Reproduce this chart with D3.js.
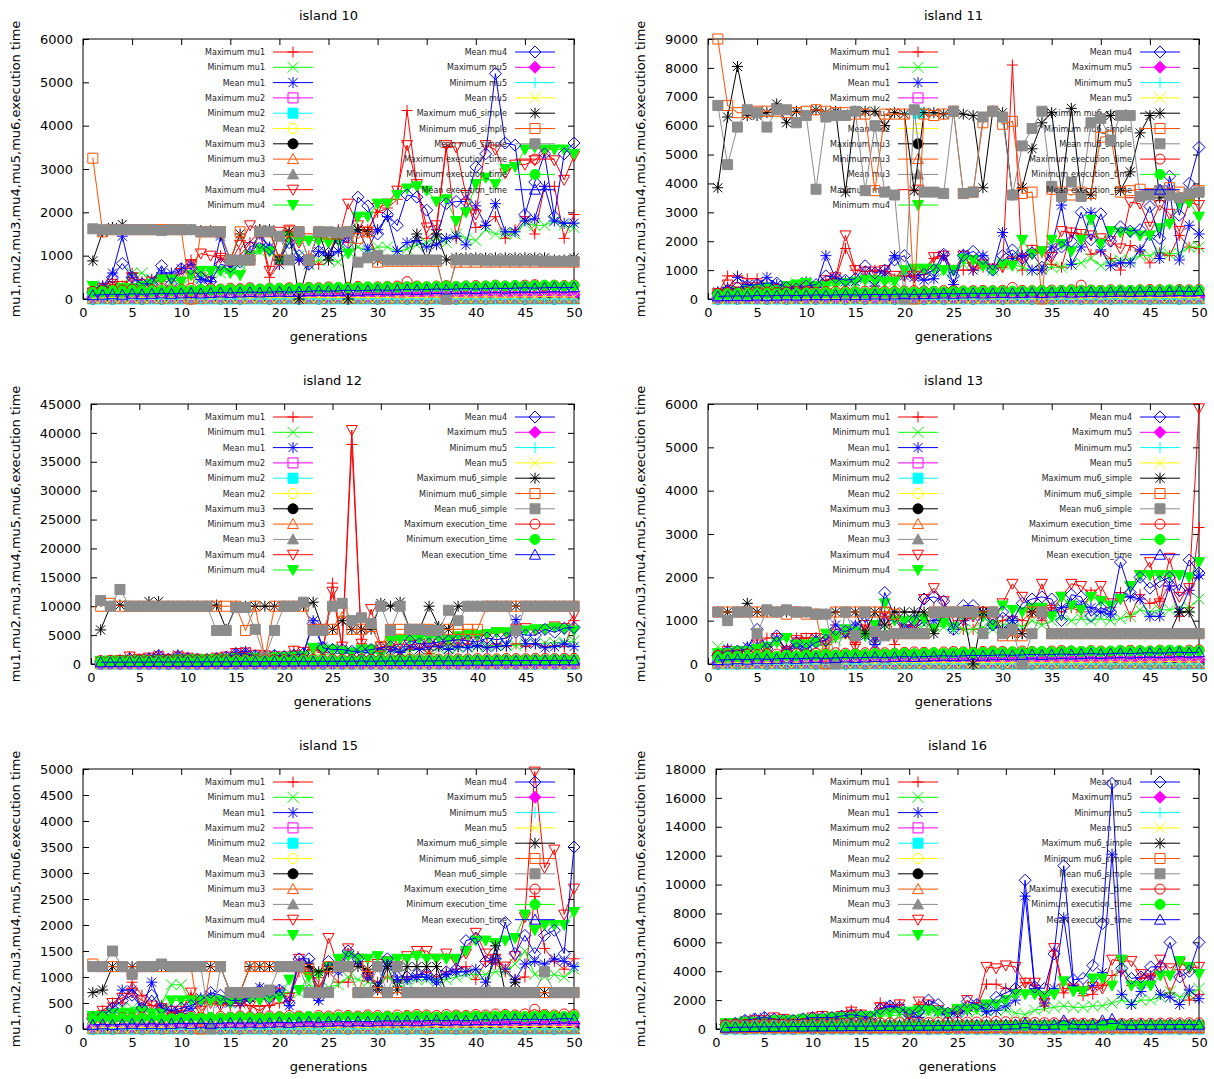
<!DOCTYPE html>
<html>
<head>
<meta charset="utf-8">
<script src="https://cdn.jsdelivr.net/npm/d3@7"></script>
<style>
  body { margin: 0; background: #fff; }
  text { font-family: "DejaVu Sans", sans-serif; }
</style>
</head>
<body>
<svg id="chart" width="1214" height="1079"></svg>
<script>
// x values: generation number
const generations = [1,2,3,4,5,6,7,8,9,10,11,12,13,14,15,16,17,18,19,20,21,22,23,24,25,
  26,27,28,29,30,31,32,33,34,35,36,37,38,39,40,41,42,43,44,45,46,47,48,49,50];
const xTicks = [0,5,10,15,20,25,30,35,40,45,50];

const seriesNames = ['Maximum mu1','Minimum mu1','Mean mu1','Maximum mu2','Minimum mu2','Mean mu2',
  'Maximum mu3','Minimum mu3','Mean mu3','Maximum mu4','Minimum mu4','Mean mu4',
  'Maximum mu5','Minimum mu5','Mean mu5','Maximum mu6_simple','Minimum mu6_simple','Mean mu6_simple',
  'Maximum execution_time','Minimum execution_time','Mean execution_time'];

// near-zero series (mu2, mu3, mu5) look the same on every island
const zeros50 = [0,0,0,0,0,0,0,0,0,0, 0,0,0,0,0,0,0,0,0,0, 0,0,0,0,0,0,0,0,0,0, 0,0,0,0,0,0,0,0,0,0, 0,0,0,0,0,0,0,0,0,0];
const lowMax2 = [30,40,20,50,30,40,30,20,40,30, 20,30,40,30,20,40,30,50,30,40, 30,20,40,30,50,40,30,20,40,30, 50,40,30,40,50,30,40,50,40,30, 50,40,60,40,50,40,60,50,40,50];
const lowMean2 = [10,15,10,20,15,10,15,20,10,15, 10,20,15,10,15,20,15,10,20,15, 10,15,20,15,10,20,15,20,10,15, 20,15,10,20,15,20,25,15,20,25, 20,15,25,20,25,20,30,25,20,25];
const lowMax3 = [0,10,0,20,10,0,10,0,20,10, 0,10,20,0,10,0,10,20,0,10, 20,0,10,0,20,10,0,10,20,0, 10,20,0,10,0,20,10,0,10,20, 0,10,20,10,0,10,20,0,10,20];
const lowMean3 = [5,0,5,10,0,5,0,10,5,0, 5,10,0,5,0,10,5,0,5,10, 0,5,10,0,5,0,10,5,0,5, 10,0,5,0,10,5,0,5,10,0, 5,0,10,5,0,5,10,0,5,10];
const lowMax5 = [40,50,60,50,40,60,50,70,60,50, 60,70,50,60,70,60,50,70,60,80, 70,60,70,80,60,70,80,70,60,80, 70,90,80,70,80,90,80,70,90,80, 100,90,80,90,100,90,110,100,90,100];
const lowMean5 = [20,25,30,25,20,30,25,35,30,25, 30,35,25,30,35,30,25,35,30,40, 35,30,35,40,30,35,40,35,30,40, 35,45,40,35,40,45,40,35,45,40, 50,45,40,45,50,45,55,50,45,50];
const execMin = [150,160,170,160,180,190,180,200,190,210, 200,220,210,220,230,220,240,230,240,250, 240,250,260,250,260,270,260,270,280,270, 280,270,280,290,280,290,300,290,300,290, 300,310,300,310,300,310,320,310,300,310];
const execMean = [90,100,110,100,120,110,120,130,120,130, 140,130,140,150,140,150,160,150,160,170, 160,170,180,190,180,190,200,190,200,210, 200,210,220,210,220,230,220,230,240,230, 240,250,240,250,260,250,260,270,260,270];

// island 10
const i10MaxMu1 = [200,300,400,300,600,400,400,400,500,700, 900,600,500,1000,700,1000,1300,1600,500,800, 1550,900,1000,800,1000,1600,1300,1600,1600,2000, 2100,2300,4350,2600,1400,1600,3500,1400,2300,1650, 1700,1900,1400,1600,1900,1500,2600,2600,1400,1950];
const i10MinMu1 = [300,250,300,300,600,600,450,500,400,450, 500,500,600,600,700,800,1000,1100,1100,900, 1300,1000,800,900,900,850,1100,1200,1100,1200, 1200,1100,1150,1250,1300,1400,1300,1500,1400,1350, 1600,1500,1500,1500,1750,1700,1700,1800,1700,1650];
const i10MeanMu1 = [100,300,600,1450,500,350,450,600,600,700, 800,450,400,1450,700,900,1050,1500,1200,800, 1450,900,800,1100,1000,1100,1500,1600,1150,1600, 1900,1100,1300,1350,1200,1250,1400,1450,1250,2150, 1700,2200,1550,1550,1800,1850,2600,1800,1750,1750];
const i10MaxMu4 = [150,250,350,300,500,350,400,450,450,600, 800,1050,1000,950,850,1250,1700,1550,650,1550, 1600,1300,1400,1500,1400,1350,2200,1700,1550,2100, 2200,2500,3550,2650,1650,1700,3550,3500,2400,1950, 3550,3450,2900,3100,3100,3200,3400,3200,2750,3300];
const i10MinMu4 = [300,200,200,250,250,300,350,450,450,400, 550,650,650,650,600,550,1000,1150,1100,900, 1450,1350,1350,1350,1300,1350,1050,1900,1900,2200, 2200,2400,2550,2600,2500,2250,2300,1800,2000,2650, 2800,2650,3000,3050,3450,3500,3450,3450,3450,3350];
const i10MeanMu4 = [150,250,500,820,500,350,350,770,350,700, 700,500,400,800,750,850,1200,1300,1150,900, 1300,1000,800,1100,1050,1400,1300,2350,2150,1500, 1950,1700,2400,2350,2050,1400,2200,2250,2250,3050, 3350,5200,3600,3550,1950,2700,3350,1900,3350,3600];
const i10MaxMu6 = [880,1550,1650,1720,1600,1600,1600,1600,1600,1600, 1600,1580,1580,1500,900,1500,900,1600,1600,900, 1550,0,900,1550,900,1550,0,1600,1550,900, 900,900,900,1500,900,1500,900,950,950,950, 950,950,950,950,950,950,950,900,900,950];
const i10MinMu6 = [3250,1550,1600,1600,1600,1600,1600,1600,1600,1600, 0,1550,1550,1550,900,1550,900,1550,1550,900, 1550,1550,900,1550,1500,1500,1550,1400,1550,850, 870,870,870,870,870,870,0,850,850,850, 850,850,850,850,850,850,850,850,850,850];
const i10MeanMu6 = [1620,1600,1600,1600,1600,1600,1600,1580,1600,1600, 1600,1550,1550,1550,900,900,900,1560,1560,1450, 900,1550,900,1550,1550,1530,1550,850,950,1000, 900,900,900,900,900,900,0,900,900,900, 880,880,880,880,880,880,870,870,870,870];
const i10MaxExec = [180,200,220,210,230,200,220,240,210,230, 250,220,240,230,250,240,260,230,250,240, 260,250,270,260,280,250,270,290,270,280, 290,300,400,300,280,300,310,290,300,310, 300,320,300,310,320,330,300,320,310,320];

// island 11
const i11MaxMu1 = [200,800,800,700,700,500,350,300,300,400, 400,650,700,1750,1000,950,1000,950,700,800, 800,850,1400,1500,1000,1000,1000,1100,1050,1100, 8100,1000,1700,1600,1200,1100,2300,2200,1550,1650, 1400,1000,1850,1650,1250,1600,1500,2200,1800,1750];
const i11MinMu1 = [150,300,200,300,350,250,300,350,550,400, 350,500,600,500,550,700,600,700,600,1000, 1000,1000,1050,950,900,1200,1300,1100,1000,1250, 1200,1100,1000,1050,1100,1100,1200,1250,1400,1150, 1300,1350,1350,1500,1500,1650,1550,1600,1800,1800];
const i11MeanMu1 = [250,400,750,500,500,750,500,350,450,600, 400,1500,700,600,600,750,450,900,1500,800, 750,650,700,1500,500,1550,1000,1500,1050,2300, 1400,1500,1000,1000,1800,3250,1200,1800,3000,1700, 1150,1250,1250,1700,2200,1400,3800,1350,2550,2250];
const i11MaxMu4 = [200,500,400,400,400,300,350,400,400,400, 450,650,750,2200,1000,950,950,1000,800,800, 800,1000,1450,1500,1000,1500,1100,1200,1050,1100, 1300,1400,1700,1650,1450,2350,2300,2250,2200,2100, 2000,1750,3350,3300,2500,3250,2950,2350,3350,3250];
const i11MinMu4 = [100,200,250,300,350,400,300,450,500,550, 450,450,500,550,600,650,650,600,600,1000, 1050,1050,1050,1000,1000,1400,1350,1150,1000,1200, 1150,2050,1550,1650,2050,1900,1650,2050,2750,1900, 2350,2300,2300,2200,2200,2450,2600,3300,3350,2850];
const i11MeanMu4 = [200,300,400,450,500,550,550,400,350,450, 500,800,750,650,700,1150,900,1000,1350,1500, 800,850,1000,1550,800,1500,1650,1400,1000,1500, 1700,1400,1600,1100,1600,1800,2000,3000,2050,2950, 2000,2500,2350,2400,3200,2100,4250,2900,4000,5250];
const i11MaxMu6 = [3850,6300,8050,6350,6350,6450,6750,6100,6500,6350, 6550,6450,6500,3700,6500,6500,6500,6000,6450,6400, 3750,6450,6450,6400,6500,6400,6350,3850,6500,6450, 3600,3850,5200,6100,6450,3700,6600,3650,3600,6300, 6350,3750,4400,5750,6350,3500,3600,3500,3650,3650];
const i11MinMu6 = [9000,6700,6450,6450,6500,6500,6500,6450,6450,6500, 6550,6500,6450,6450,6400,6400,3750,6400,6400,6400, 0,6400,6350,6400,6500,3650,3700,6100,6500,6050, 6150,3650,3700,0,3800,3700,3600,3700,3650,5600, 5650,3700,3750,3800,3650,3750,3850,3700,3600,3750];
const i11MeanMu6 = [6700,4650,5950,6550,6450,5950,6550,6550,6100,6350, 3800,6300,6350,6350,6500,3750,6000,3700,3600,0, 6550,3700,3700,3650,6500,3650,3700,6300,6500,6300, 3600,5300,5900,6500,3900,3550,4050,3550,6100,6250, 5500,6350,6350,3550,3600,3750,3600,3500,3650,3700];
const i11MaxExec = [200,220,240,230,250,240,230,250,260,250, 240,260,270,260,250,270,280,270,260,280, 290,280,270,290,300,280,290,300,290,300, 400,300,290,300,310,300,320,480,310,300, 320,310,300,320,330,320,310,330,320,330];

// island 12
const i12MaxMu1 = [300,400,600,1200,800,1000,1200,800,1200,1000, 800,700,1000,1200,1800,1800,1500,1400,1200,1200, 2200,2000,2500,2000,14000,2500,38000,3500,2500,2800, 3000,2200,2500,2800,1800,3000,3500,3000,3500,3000, 3000,3500,3000,3500,3000,3500,3000,3200,3000,7500];
const i12MinMu1 = [500,500,500,500,600,600,600,600,600,700, 700,700,800,800,900,900,900,1000,1000,1100, 1200,1300,1500,1600,1800,1800,1900,2000,1800,2000, 2200,2200,2300,2500,2500,2600,2700,2800,3000,3000, 3100,3200,3300,3200,3500,3500,3600,3700,3800,4000];
const i12MeanMu1 = [300,500,600,800,700,1000,1600,900,1600,1000, 900,800,1000,1200,2000,2200,1500,1200,1500,1300, 1600,1800,7500,3000,2600,2500,2000,2000,2000,2500, 2500,2000,3000,2500,3000,3000,2500,3000,2800,3200, 2800,3000,3200,7700,3500,3500,2800,3000,3500,3000];
const i12MaxMu4 = [400,500,700,1300,900,1100,1300,900,1300,1100, 900,800,1100,1300,1900,2000,1600,1500,1300,1300, 2300,2100,2600,2100,12500,3000,40500,3500,9500,3000, 3200,3500,3300,3500,3000,3500,4000,4200,4500,4800, 5000,5500,5300,6000,6200,5800,6000,6500,6200,8500];
const i12MinMu4 = [500,600,600,600,700,700,700,700,800,800, 800,800,900,900,1000,1000,1100,1100,1200,1200, 1300,1400,2800,2500,2500,2200,2000,2500,2500,1500, 4000,4200,4300,4300,4500,4500,4200,4800,5000,5000, 5200,5500,5500,5800,5800,6000,6000,6300,6000,5800];
const i12MeanMu4 = [400,500,600,900,700,900,1400,800,1300,1000, 800,800,900,1200,1700,1800,1400,1300,1500,1300, 1500,1800,7000,2800,2500,2500,2200,2200,2500,2800, 3000,2500,4000,3500,3500,3800,4000,4200,4000,3800, 4500,4200,4500,5500,5000,5000,6000,5500,6200,6300];
const i12MaxMu6 = [5900,10000,10200,10000,10000,10800,10800,10000,10000,10000, 10000,10000,10200,6000,10000,10000,10000,10000,10000,10000, 10000,10000,10700,6000,6000,7500,6000,6000,6000,10500, 10000,10700,6000,6000,10000,6500,6000,10000,10000,10000, 10000,10000,10000,10000,10000,10000,10000,10000,10000,10000];
const i12MinMu6 = [10000,10500,10000,10000,10000,10000,10000,10000,10000,10000, 10000,10000,10000,10000,10000,5800,10000,1000,10000,10000, 10000,10000,6000,6000,6000,9000,6000,6000,6500,3000, 6000,6000,6000,6000,6000,5800,6000,6000,6000,6000, 10000,10000,10000,10000,10000,10000,10000,10000,10000,10000];
const i12MeanMu6 = [11000,10000,12900,10000,10000,10000,10000,10000,10000,10000, 10000,10000,5800,5800,9800,9800,6000,1000,5800,10000, 10000,10700,5800,5800,10000,10500,7500,8000,7000,10000, 5800,10000,6000,6000,5800,5800,9300,7500,10000,10000, 10000,10000,10000,5800,10000,10000,10000,10000,10000,10000];
const i12MaxExec = [600,650,620,680,700,660,720,700,680,740, 720,700,760,740,720,780,760,740,800,780, 760,820,800,780,840,820,800,860,840,820, 880,860,840,900,880,860,920,900,880,940, 920,900,960,940,920,980,960,940,1000,980];
const i12MinExec = [450,460,470,480,470,490,500,490,510,520, 510,530,540,530,550,560,550,570,580,570, 590,600,590,610,620,610,630,640,630,650, 660,650,670,680,670,690,700,690,710,720, 710,730,740,730,750,760,750,770,780,770];
const i12MeanExec = [300,310,320,330,320,340,350,340,360,370, 360,380,390,380,400,410,400,420,430,420, 440,450,440,460,470,460,480,490,480,500, 510,500,520,530,520,540,550,540,560,570, 560,580,590,580,600,610,600,620,630,620];

// island 13
const i13MaxMu1 = [150,300,300,300,450,600,600,350,600,600, 600,450,600,750,450,900,700,1200,450,800, 900,1100,1300,1200,900,800,800,1200,900,1000, 1100,1000,1200,1000,1300,1200,1300,1200,1650,1550, 1300,1650,1100,1600,1400,1450,1800,1100,1300,3150];
const i13MinMu1 = [400,200,250,300,350,300,500,300,400,450, 400,450,550,650,700,700,600,800,700,800, 800,900,900,850,900,800,800,850,800,900, 950,850,1000,900,1000,1100,1000,1050,1000,1050, 1000,1050,1100,1250,1200,1250,1250,1300,1300,1500];
const i13MeanMu1 = [200,350,250,400,450,400,600,300,400,300, 600,600,900,700,900,650,450,1100,1000,900, 800,1000,1000,1100,800,1000,1100,1100,900,800, 1000,700,1200,1150,1200,1300,1400,1350,1300,1200, 1150,1550,1550,1500,1100,1100,1800,1200,1700,2050];
const i13MaxMu4 = [150,300,300,300,450,350,600,300,550,600, 600,500,700,700,400,900,600,1200,700,800, 900,1500,1750,1450,1000,1000,1100,1200,1000,1400, 1850,1550,1250,1850,1250,1550,1850,1800,1600,1800, 1400,1500,1800,2050,2350,1400,2450,1550,1750,5900];
const i13MinMu4 = [250,250,300,300,350,400,500,600,450,450, 500,700,650,800,750,650,900,1400,1000,1000, 1000,1050,800,950,850,1150,1150,1100,900,1350, 1250,1200,1300,1300,1100,1550,1350,1250,1550,1450, 1350,1500,1800,2050,2050,2050,2050,2050,2000,2350];
const i13MeanMu4 = [200,300,300,350,800,350,650,300,500,350, 500,550,800,750,850,1100,500,1650,1100,800, 1000,1500,1550,1450,800,1350,1350,1200,900,1200, 1000,1400,1500,1550,1500,1000,1600,1550,1100,1300, 1200,2350,1650,2000,1750,1900,2000,1700,2400,2100];
const i13MaxMu6 = [1200,1200,1200,1400,1200,1200,1200,1200,1200,1200, 1150,1150,1200,1200,1200,700,1200,900,1200,1200, 1200,1200,700,1200,1200,1200,0,1200,1200,750, 700,700,1200,1200,700,700,700,700,700,700, 700,700,700,700,700,700,700,1200,1200,700];
const i13MinMu6 = [1200,1200,1200,1200,1200,1200,1200,1150,1200,1150, 1150,0,1200,1200,1200,1200,1200,1200,1150,700, 700,700,1200,1200,1200,1200,1200,1200,1200,650, 650,650,1200,1200,700,700,700,700,700,700, 700,700,700,700,700,700,700,700,700,700];
const i13MeanMu6 = [1200,1000,1200,1200,700,1250,1200,1250,1200,1200, 1150,1150,0,1200,650,1200,750,650,700,700, 700,700,1200,1200,1200,1200,1200,700,1200,700, 800,0,700,1200,700,700,700,700,700,700, 700,700,700,700,700,700,700,700,700,700];
const i13MaxExec = [200,210,220,230,220,240,230,250,240,230, 250,240,260,250,240,260,270,260,250,270, 280,270,260,280,290,280,270,290,300,290, 280,300,290,280,300,310,300,290,310,300, 290,310,320,310,300,320,310,300,320,330];

// island 15
const i15MaxMu1 = [200,350,500,500,900,650,450,450,300,350, 650,500,550,500,450,450,450,450,450,500, 550,1100,1100,800,1100,900,900,1400,1000,900, 1000,900,1000,1000,1100,1000,1100,1150,1200,950, 1300,1250,1100,950,1000,2550,1550,1300,1150,1350];
const i15MinMu1 = [200,250,300,400,400,450,300,500,850,850, 500,550,550,550,600,500,600,650,700,700, 700,700,850,800,800,850,1000,950,900,850, 1000,900,900,950,950,950,950,1000,1050,1050, 1050,1100,1100,1250,1500,1050,1000,1050,1000,1150];
const i15MeanMu1 = [250,250,400,750,750,400,900,400,350,300, 400,600,650,500,500,500,600,800,650,750, 450,1300,1250,550,1200,1100,1450,1300,1000,800, 1300,950,950,1000,1000,900,1050,1100,1100,1150, 900,1350,1150,950,1250,1300,1250,1350,1300,1200];
const i15MaxMu4 = [200,350,500,600,700,550,450,400,350,350, 700,350,500,450,500,500,450,350,500,700, 600,1350,1100,900,1750,1200,1550,1350,1000,1250, 1300,1200,1400,1500,1500,1350,1450,1300,1450,1850, 1450,1350,1200,1400,2150,4950,3100,3450,2200,2700];
const i15MinMu4 = [250,250,300,300,300,350,300,300,550,550, 550,550,550,550,500,600,600,550,600,600, 950,750,1000,1050,1200,1350,1400,1350,1350,1400, 1300,1350,1350,1400,1350,1350,1350,1350,1500,1700, 1700,1650,1700,1750,2200,1900,2000,2000,2000,2250];
const i15MeanMu4 = [200,250,400,550,650,400,650,400,350,400, 450,550,700,650,550,550,600,750,600,750, 500,1350,1350,600,1300,1150,1500,1350,1050,800, 1350,1000,1000,1050,1050,950,1100,1150,1700,1750, 1300,1350,2050,1450,1800,1450,1800,1900,1450,3500];
const i15MaxMu6 = [700,750,1200,1200,1200,1200,1200,1200,1200,1200, 1200,1200,1200,1200,700,700,1200,1200,1200,1200, 1200,1200,1200,1100,1150,1200,1200,1200,1150,750, 1200,750,1200,1200,1200,1200,700,700,700,700, 700,1600,700,900,700,700,700,700,700,700];
const i15MinMu6 = [1250,1200,1200,1200,1100,1200,1200,1200,1200,1200, 1200,0,1200,1200,700,700,1200,1200,1200,1200, 1200,1200,1150,700,1200,1200,1200,700,1200,700, 700,700,700,700,700,700,700,700,700,700, 700,700,700,700,700,700,700,700,700,700];
const i15MeanMu6 = [1200,1200,1500,1200,1050,1200,1200,1250,1200,1200, 1200,1200,0,1200,700,700,700,700,750,1200, 1200,1200,700,700,700,1200,1200,700,700,1200, 700,1200,700,700,700,700,700,700,700,700, 700,700,700,700,700,700,1100,700,700,700];
const i15MaxExec = [200,210,200,220,210,230,220,210,230,220, 240,230,220,240,230,250,240,230,250,240, 260,250,240,260,250,270,260,250,270,260, 250,270,260,280,270,260,280,270,260,280, 270,290,280,270,290,380,280,270,290,280];
const i15MinExec = [200,210,200,210,200,210,220,210,200,210, 220,210,220,210,220,230,220,210,220,230, 220,230,240,230,220,230,240,230,240,230, 240,230,240,250,240,230,240,250,240,250, 240,250,260,250,240,250,260,250,240,250];
const i15MeanExec = [80,90,80,90,100,90,100,90,100,110, 100,110,100,110,120,110,120,110,120,130, 120,130,140,130,140,150,140,150,140,150, 160,150,160,150,160,170,160,170,160,170, 180,170,180,190,180,190,180,190,200,190];

// island 16
const i16MaxMu1 = [300,400,500,600,600,700,600,600,700,800, 900,800,900,1300,1000,900,1800,1200,1700,1000, 1700,1500,1200,1000,1100,1300,1500,3100,3100,2800, 2700,3200,3000,1600,5400,2500,3000,2300,2400,3000, 3700,4000,3000,3500,3700,4300,2500,4100,2000,2400];
const i16MinMu1 = [300,300,400,400,500,500,500,600,600,600, 700,700,700,800,800,900,900,900,1000,1000, 1000,1100,1100,1000,1200,1200,1200,1300,1300,1300, 1100,1000,1300,1400,1500,1600,1500,1500,1600,1600, 1800,2000,1800,2000,2000,2200,2600,2200,2400,2800];
const i16MeanMu1 = [200,400,600,700,800,600,500,500,600,700, 700,700,800,1000,800,700,1300,1600,1400,900, 800,1600,1200,1000,1100,1300,1700,1200,1300,1600, 2000,9200,2800,1800,2800,7700,3000,2700,3000,3900, 12100,2400,1700,2600,3600,2400,2200,1700,2700,2100];
const i16MaxMu4 = [300,400,500,600,600,800,700,600,700,800, 900,800,900,1200,1000,900,1500,1400,1700,1000, 1900,1700,1300,1100,1300,2000,1500,4300,4200,4400, 4300,3200,3200,1800,5600,2800,2800,2600,2900,2800, 4800,4700,4700,3800,3500,4800,4200,4600,4200,4300];
const i16MinMu4 = [400,400,500,500,500,600,600,600,700,700, 700,800,800,800,900,900,1000,1100,1200,1200, 1300,1300,1200,1100,1400,1400,1400,1700,1700,2000, 2400,2400,2400,2300,2400,3300,2600,2600,3500,3500, 3000,4800,3000,3000,3000,3700,3700,4700,4300,3800];
const i16MeanMu4 = [300,400,600,700,800,700,600,600,700,800, 800,800,900,1000,900,800,1400,1600,1500,1000, 1200,2000,1700,1100,1200,1900,1700,1400,2200,2500, 2800,10300,2900,2800,5200,11300,3400,3500,4400,7300, 17000,4200,3500,3600,4300,4300,6000,3600,4000,6000];
const i16MaxMu6 = [300,320,310,330,300,320,340,310,330,300, 320,310,340,330,300,320,310,330,300,320, 310,330,300,320,340,310,300,320,330,310, 300,320,310,330,300,320,340,310,330,300, 320,310,330,300,320,310,330,300,320,310];
const i16MinMu6 = [100,120,110,100,130,110,120,100,110,130, 120,100,110,120,130,100,110,120,100,130, 110,120,100,110,130,120,100,110,120,130, 100,110,120,100,130,110,120,100,110,130, 120,100,110,120,130,100,110,120,100,110];
const i16MeanMu6 = [220,230,210,240,220,230,250,220,240,210, 230,220,250,240,210,230,220,240,210,230, 220,240,210,230,250,220,210,230,240,220, 210,230,220,240,210,230,250,220,240,210, 230,220,240,210,230,220,240,210,230,220];
const i16MaxExec = [300,320,330,340,350,360,360,370,380,380, 390,400,400,410,420,420,430,430,440,440, 450,450,460,460,470,480,480,500,520,500, 480,460,450,440,430,420,410,400,380,380, 400,380,390,400,400,410,420,420,430,430];
const i16MinExec = [150,150,160,160,170,170,180,180,180,190, 190,190,200,200,200,200,210,210,210,220, 220,220,230,230,230,230,240,240,240,250, 250,250,250,260,260,260,260,270,270,270, 280,280,280,280,290,290,290,290,300,300];
const i16MeanExec = [100,120,130,140,150,150,160,170,170,180, 180,190,190,200,200,200,210,210,220,220, 230,230,240,240,250,250,260,270,280,300, 320,400,300,280,300,600,320,300,300,600, 700,300,280,300,290,300,300,310,300,300];

const panels = [
  {title: 'island 10', col: 0, row: 0, yMax: 6000, yStep: 1000,
    series: [i10MaxMu1, i10MinMu1, i10MeanMu1, lowMax2, zeros50, lowMean2, lowMax3, zeros50, lowMean3,
      i10MaxMu4, i10MinMu4, i10MeanMu4, lowMax5, zeros50, lowMean5, i10MaxMu6, i10MinMu6, i10MeanMu6,
      i10MaxExec, execMin, execMean]},
  {title: 'island 11', col: 1, row: 0, yMax: 9000, yStep: 1000,
    series: [i11MaxMu1, i11MinMu1, i11MeanMu1, lowMax2, zeros50, lowMean2, lowMax3, zeros50, lowMean3,
      i11MaxMu4, i11MinMu4, i11MeanMu4, lowMax5, zeros50, lowMean5, i11MaxMu6, i11MinMu6, i11MeanMu6,
      i11MaxExec, execMin, execMean]},
  {title: 'island 12', col: 0, row: 1, yMax: 45000, yStep: 5000,
    series: [i12MaxMu1, i12MinMu1, i12MeanMu1, lowMax2, zeros50, lowMean2, lowMax3, zeros50, lowMean3,
      i12MaxMu4, i12MinMu4, i12MeanMu4, lowMax5, zeros50, lowMean5, i12MaxMu6, i12MinMu6, i12MeanMu6,
      i12MaxExec, i12MinExec, i12MeanExec]},
  {title: 'island 13', col: 1, row: 1, yMax: 6000, yStep: 1000,
    series: [i13MaxMu1, i13MinMu1, i13MeanMu1, lowMax2, zeros50, lowMean2, lowMax3, zeros50, lowMean3,
      i13MaxMu4, i13MinMu4, i13MeanMu4, lowMax5, zeros50, lowMean5, i13MaxMu6, i13MinMu6, i13MeanMu6,
      i13MaxExec, execMin, execMean]},
  {title: 'island 15', col: 0, row: 2, yMax: 5000, yStep: 500,
    series: [i15MaxMu1, i15MinMu1, i15MeanMu1, lowMax2, zeros50, lowMean2, lowMax3, zeros50, lowMean3,
      i15MaxMu4, i15MinMu4, i15MeanMu4, lowMax5, zeros50, lowMean5, i15MaxMu6, i15MinMu6, i15MeanMu6,
      i15MaxExec, i15MinExec, i15MeanExec]},
  {title: 'island 16', col: 1, row: 2, yMax: 18000, yStep: 2000,
    series: [i16MaxMu1, i16MinMu1, i16MeanMu1, lowMax2, zeros50, lowMean2, lowMax3, zeros50, lowMean3,
      i16MaxMu4, i16MinMu4, i16MeanMu4, lowMax5, zeros50, lowMean5, i16MaxMu6, i16MinMu6, i16MeanMu6,
      i16MaxExec, i16MinExec, i16MeanExec]}
];

// gnuplot-like colour and point cycles
const colors = ['#ff0000', '#00ff00', '#0000ff', '#ff00ff', '#00ffff', '#ffff00', '#000000', '#ff5000', '#8c8c8c'];
const filledTypes = [4, 6, 8, 10, 12];

function markerPath(t, cx, cy) {
  const s = 5.5;
  const plus = `M${cx - s},${cy}H${cx + s}M${cx},${cy - s}V${cy + s}`;
  const cross = `M${cx - 4.5},${cy - 4.5}L${cx + 4.5},${cy + 4.5}M${cx - 4.5},${cy + 4.5}L${cx + 4.5},${cy - 4.5}`;
  switch (t) {
    case 0: return plus;
    case 1: return `M${cx - s},${cy - s}L${cx + s},${cy + s}M${cx - s},${cy + s}L${cx + s},${cy - s}`;
    case 2: return plus + cross;
    case 3: return `M${cx - 5},${cy - 5}h10v10h-10ZM${cx - 0.5},${cy}h1`;
    case 4: return `M${cx - 5},${cy - 5}h10v10h-10Z`;
    case 5:
    case 6: return `M${cx + 5},${cy}A5,5 0 1 0 ${cx - 5},${cy}A5,5 0 1 0 ${cx + 5},${cy}Z`;
    case 7:
    case 8: return `M${cx},${cy - 5.5}L${cx + 5.5},${cy + 4.5}L${cx - 5.5},${cy + 4.5}Z`;
    case 9:
    case 10: return `M${cx},${cy + 5.5}L${cx + 5.5},${cy - 4.5}L${cx - 5.5},${cy - 4.5}Z`;
    default: return `M${cx},${cy - 6}L${cx + 6},${cy}L${cx},${cy + 6}L${cx - 6},${cy}Z`;
  }
}

const svg = d3.select('#chart');

function styleAxis(sel) {
  sel.select('.domain').remove();
  sel.selectAll('line').attr('stroke', '#000');
  sel.selectAll('text').attr('font-family', '"DejaVu Sans", sans-serif').attr('font-size', 13).attr('fill', '#000');
}

panels.forEach(p => {
  const ox = p.col * 625, oy = p.row * 365;
  const top = 39 + oy, bottom = 299 + oy, right = 574 + ox;
  const left = (p.yMax >= 10000 ? 91 : 83) + ox;

  const x = d3.scaleLinear().domain([0, 50]).range([left, right]);
  const y = d3.scaleLinear().domain([0, p.yMax]).range([bottom, top]);
  const yTicks = d3.range(0, p.yMax + 1, p.yStep);

  const g = svg.append('g');

  g.append('rect')
    .attr('x', left).attr('y', top)
    .attr('width', right - left).attr('height', bottom - top)
    .attr('fill', 'none').attr('stroke', '#000');

  g.append('g').attr('transform', `translate(0,${bottom})`)
    .call(d3.axisBottom(x).tickValues(xTicks).tickSizeInner(-6).tickSizeOuter(0).tickPadding(9))
    .call(styleAxis);
  g.append('g').attr('transform', `translate(0,${top})`)
    .call(d3.axisTop(x).tickValues(xTicks).tickSizeInner(-6).tickSizeOuter(0).tickFormat(''))
    .call(styleAxis);
  g.append('g').attr('transform', `translate(${left},0)`)
    .call(d3.axisLeft(y).tickValues(yTicks).tickSizeInner(-6).tickSizeOuter(0).tickPadding(10).tickFormat(d3.format('d')))
    .call(styleAxis);
  g.append('g').attr('transform', `translate(${right},0)`)
    .call(d3.axisRight(y).tickValues(yTicks).tickSizeInner(-6).tickSizeOuter(0).tickFormat(''))
    .call(styleAxis);

  g.append('text')
    .attr('x', (left + right) / 2).attr('y', 20 + oy)
    .attr('text-anchor', 'middle').attr('font-size', 13)
    .text(p.title);
  g.append('text')
    .attr('x', (left + right) / 2).attr('y', bottom + 42)
    .attr('text-anchor', 'middle').attr('font-size', 13)
    .text('generations');
  g.append('text')
    .attr('transform', `translate(${20 + ox},${(top + bottom) / 2}) rotate(-90)`)
    .attr('text-anchor', 'middle').attr('font-size', 13)
    .text('mu1,mu2,mu3,mu4,mu5,mu6,execution time');

  const line = d3.line().x((d, k) => x(generations[k])).y(d => y(d));

  p.series.forEach((vals, i) => {
    const color = colors[i % 9];
    const type = i % 13;
    const filled = filledTypes.includes(type);
    const keyCol = i < 11 ? 0 : 1;
    const keyRow = i < 11 ? i : i - 11;
    const sx = right - 301 + keyCol * 242;
    const sy = top + 13 + keyRow * 15.3;

    // key entry, drawn just before its plot like gnuplot does
    g.append('text')
      .attr('x', sx - 8).attr('y', sy + 3)
      .attr('text-anchor', 'end').attr('font-size', 8).attr('fill', '#222')
      .text(seriesNames[i]);
    g.append('line')
      .attr('x1', sx).attr('x2', sx + 40).attr('y1', sy).attr('y2', sy)
      .attr('stroke', color);
    g.append('path')
      .attr('d', markerPath(type, sx + 20, sy))
      .attr('fill', filled ? color : 'none').attr('stroke', color);

    g.append('path')
      .attr('d', line(vals))
      .attr('fill', 'none').attr('stroke', color);
    g.append('path')
      .attr('d', vals.map((v, k) => markerPath(type, x(generations[k]), y(v))).join(''))
      .attr('fill', filled ? color : 'none').attr('stroke', color);
  });
});
</script>
</body>
</html>
